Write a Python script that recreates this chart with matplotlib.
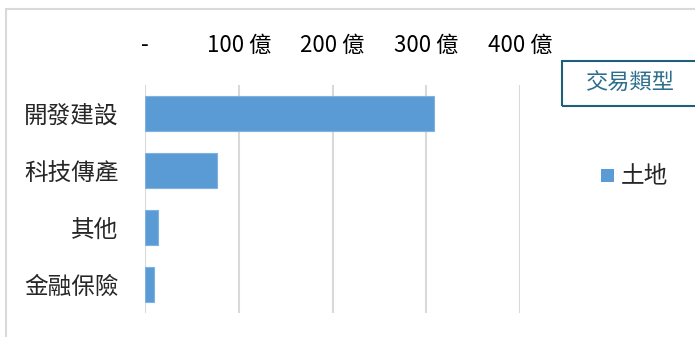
import matplotlib
matplotlib.use("Agg")
import matplotlib.pyplot as plt
from matplotlib.patches import Rectangle

plt.rcParams['font.family'] = ['Noto Sans CJK TC', 'DejaVu Sans']

categories = ['開發建設', '科技傳產', '其他', '金融保險']
values = [308, 77, 14, 10]
series_name = '土地'
legend_title = '交易類型'
tick_values = [0, 100, 200, 300, 400]
tick_labels = ['-', '100 億', '200 億', '300 億', '400 億']

W, H = 695, 337
fig = plt.figure(figsize=(W/100, H/100), dpi=100)

# outer chart border
fig.patches.append(Rectangle((6/W, -0.1), 1.2, (H-9)/H + 0.1, transform=fig.transFigure,
                             fill=False, edgecolor='#d9d9d9', linewidth=1.5))

ax = fig.add_axes([145/W, 1-313/H, (520-145)/W, (313-85)/H])
bar_color = '#5b9bd5'
y = list(range(len(categories)))
ax.barh(y, values, height=0.6, color=bar_color, edgecolor='#7fb2e0', linewidth=0.8, label=series_name, zorder=3)
ax.set_ylim(len(categories)-0.5, -0.5)
ax.set_xlim(0, 400)
ax.set_yticks(y)
ax.set_yticklabels(categories, fontsize=17, color='#262626')
ax.set_xticks(tick_values)
ax.set_xticklabels(tick_labels, fontsize=16, color='#000000')
ax.xaxis.tick_top()
ax.tick_params(axis='x', length=0, pad=20)
ax.tick_params(axis='y', length=0, pad=19)
for s in ax.spines.values():
    s.set_visible(False)
ax.grid(axis='x', color='#d9d9d9', linewidth=1.5, zorder=0)

# legend title box
fig.patches.append(Rectangle((562/W, 1-106/H), 0.2, 45/H, transform=fig.transFigure,
                             fill=False, edgecolor='#1f5f7a', linewidth=1.5))
fig.text(630/W, 1-83/H, legend_title, fontsize=16, color='#2c6e8e', ha='center', va='center')

# legend item
fig.patches.append(Rectangle((601/W, 1-182/H), 13/W, 13/H, transform=fig.transFigure,
                             facecolor=bar_color, edgecolor='none'))
fig.text(621/W, 1-176/H, series_name, fontsize=17, color='#262626', ha='left', va='center')

fig.savefig('out.png', dpi=100)
